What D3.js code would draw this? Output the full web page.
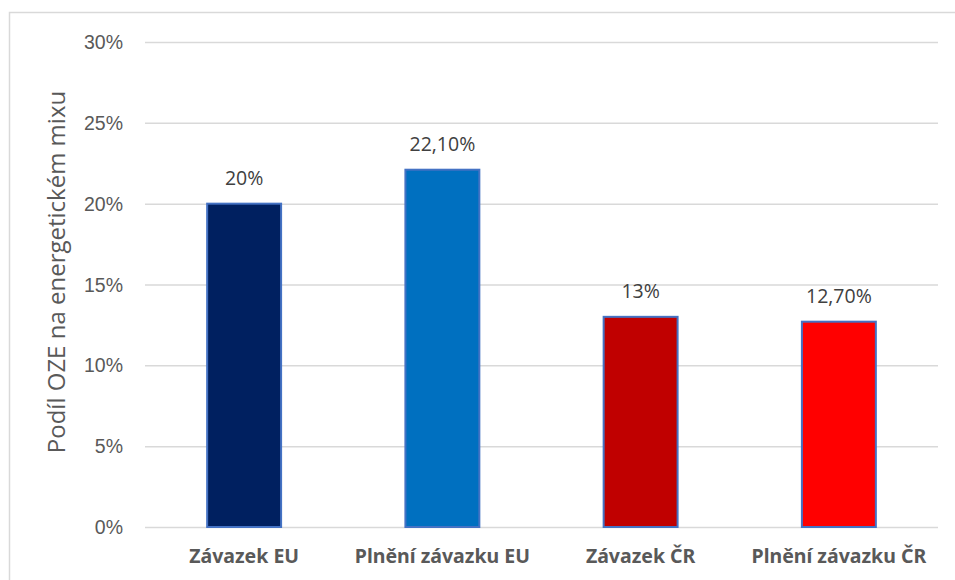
<!DOCTYPE html>
<html>
<head>
<meta charset="utf-8">
<script src="https://cdn.jsdelivr.net/npm/d3@7"></script>
<style>
  body { margin: 0; background: #fff; }
  svg { display: block; font-family: "Open Sans", Lato, sans-serif; }
</style>
</head>
<body>
<div id="main"></div>
<script>
!(function () {
  'use strict';

  // data
  const categories = ['Závazek EU', 'Plnění závazku EU', 'Závazek ČR', 'Plnění závazku ČR'];
  const values = [20, 22.1, 13, 12.7];
  const valueLabels = ['20%', '22,10%', '13%', '12,70%'];
  const barColors = ['#002060', '#0070C0', '#C00000', '#FF0000'];
  const yTicks = [0, 5, 10, 15, 20, 25, 30];
  const yTitle = 'Podíl OZE na energetickém mixu';

  // configuration
  const canvas = {
    width: 955,
    height: 580,
    padding: { top: 42, right: 17, bottom: 53, left: 145 }
  };

  const svg = d3.select('#main')
    .append('svg')
    .attr('width', canvas.width)
    .attr('height', canvas.height);

  // outer chart border
  svg.append('rect')
    .attr('x', 9.5)
    .attr('y', 12.5)
    .attr('width', canvas.width)
    .attr('height', canvas.height)
    .attr('fill', 'none')
    .attr('stroke', '#d9d9d9')
    .attr('stroke-width', 1.5);

  const xScale = d3.scaleBand()
    .domain(categories)
    .range([canvas.padding.left, canvas.width - canvas.padding.right])
    .paddingInner(0.627)
    .paddingOuter(0.3135);

  const yScale = d3.scaleLinear()
    .domain([0, 30])
    .range([canvas.height - canvas.padding.bottom, canvas.padding.top]);

  // grid + y labels
  const yAxis = svg.append('g')
    .attr('transform', 'translate(' + canvas.padding.left + ',0)')
    .call(d3.axisLeft(yScale)
      .tickValues(yTicks)
      .tickSize(-(canvas.width - canvas.padding.left - canvas.padding.right))
      .tickPadding(22)
      .tickFormat(d => d + '%'));
  yAxis.select('.domain').remove();
  yAxis.selectAll('.tick line')
    .attr('stroke', '#d9d9d9')
    .attr('stroke-width', 1.5);
  yAxis.selectAll('.tick text')
    .attr('fill', '#595959')
    .attr('font-size', 19.5)
    .attr('dy', '0.34em');

  // y title
  svg.append('text')
    .attr('transform', 'translate(65,' + 272 + ') rotate(-90)')
    .attr('text-anchor', 'middle')
    .attr('fill', '#595959')
    .attr('font-size', 24)
    .text(yTitle);

  // bars
  svg.append('g')
    .selectAll('rect')
    .data(values)
    .join('rect')
    .attr('x', (d, i) => xScale(categories[i]))
    .attr('y', d => yScale(d))
    .attr('width', xScale.bandwidth())
    .attr('height', d => yScale(0) - yScale(d))
    .attr('fill', (d, i) => barColors[i])
    .attr('stroke', '#4472C4')
    .attr('stroke-width', 2);

  // value labels
  svg.append('g')
    .selectAll('text')
    .data(values)
    .join('text')
    .attr('x', (d, i) => xScale(categories[i]) + xScale.bandwidth() / 2)
    .attr('y', d => yScale(d) - 19)
    .attr('text-anchor', 'middle')
    .attr('fill', '#404040')
    .attr('font-size', 19.5)
    .text((d, i) => valueLabels[i]);

  // category labels
  const xAxis = svg.append('g')
    .attr('transform', 'translate(0,' + yScale(0) + ')')
    .call(d3.axisBottom(xScale).tickSize(0).tickPadding(22));
  xAxis.select('.domain').remove();
  xAxis.selectAll('.tick text')
    .attr('fill', '#595959')
    .attr('font-family', '"Noto Sans", "Open Sans", sans-serif')
    .attr('font-size', 19.5)
    .attr('font-weight', 'bold');
}());
</script>
</body>
</html>
